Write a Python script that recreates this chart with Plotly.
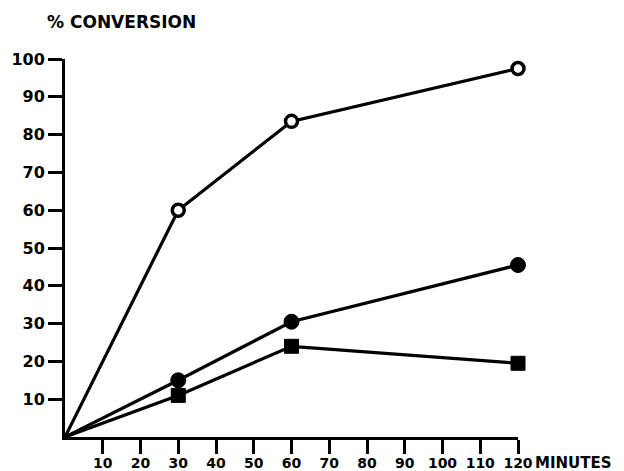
import plotly.graph_objects as go

# Reaction time (minutes) and percent conversion for three runs
minutes = [0, 30, 60, 120]
open_circle = [0, 60, 83.5, 97.5]
filled_circle = [0, 15, 30.5, 45.5]
filled_square = [0, 11, 24, 19.5]

x_ticks = [10, 20, 30, 40, 50, 60, 70, 80, 90, 100, 110, 120]
y_ticks = [10, 20, 30, 40, 50, 60, 70, 80, 90, 100]

FONT = "DejaVu Sans"
INK = "#000000"


def sizes(base):
    # no marker at the origin, only the line starts there
    return [0] + [base] * (len(minutes) - 1)


fig = go.Figure()

fig.add_trace(go.Scatter(
    x=minutes, y=filled_square, mode="lines+markers",
    line=dict(color=INK, width=3.2),
    marker=dict(symbol="square", size=sizes(14), color=INK, opacity=1,
                line=dict(color=INK, width=1)),
    cliponaxis=False, showlegend=False,
))
fig.add_trace(go.Scatter(
    x=minutes, y=filled_circle, mode="lines+markers",
    line=dict(color=INK, width=3.2),
    marker=dict(symbol="circle", size=sizes(15), color=INK, opacity=1,
                line=dict(color=INK, width=1)),
    cliponaxis=False, showlegend=False,
))
fig.add_trace(go.Scatter(
    x=minutes, y=open_circle, mode="lines+markers",
    line=dict(color=INK, width=3.2),
    marker=dict(symbol="circle", size=sizes(12), color="#ffffff", opacity=1,
                line=dict(color=INK, width=3.5)),
    cliponaxis=False, showlegend=False,
))

tick_font = dict(family=FONT, size=16, color=INK, weight="bold")

fig.update_xaxes(
    range=[0, 120], tickmode="array", tickvals=x_ticks,
    ticktext=[str(v) for v in x_ticks], automargin=False,
    showgrid=False, zeroline=False, showline=True,
    linecolor=INK, linewidth=3, ticks="outside", ticklen=14,
    tickwidth=3, tickcolor=INK,
    tickfont=dict(family=FONT, size=14, color=INK, weight="bold"),
    ticklabelstandoff=-3,
)
fig.update_yaxes(
    range=[0, 100], tickmode="array", tickvals=y_ticks,
    ticktext=[str(v) for v in y_ticks], automargin=False,
    showgrid=False, zeroline=False, showline=True,
    linecolor=INK, linewidth=3, ticks="outside", ticklen=14,
    tickwidth=3, tickcolor=INK, tickfont=tick_font,
)

fig.add_annotation(
    text="% CONVERSION", xref="paper", yref="paper",
    x=-20 / 453, y=1 + 37 / 378, xanchor="left", yanchor="middle",
    showarrow=False, font=dict(family=FONT, size=17, color=INK, weight="bold"),
)
fig.add_annotation(
    text="MINUTES", xref="paper", yref="paper",
    x=1 + 16 / 453, y=-26 / 378, xanchor="left", yanchor="middle",
    showarrow=False, borderpad=0,
    font=dict(family=FONT, size=15, color=INK, weight="bold"),
)

fig.update_layout(
    width=624, height=471,
    margin=dict(l=65, r=106, t=59, b=34),
    paper_bgcolor="white", plot_bgcolor="white",
)

fig.write_html("out.html")
